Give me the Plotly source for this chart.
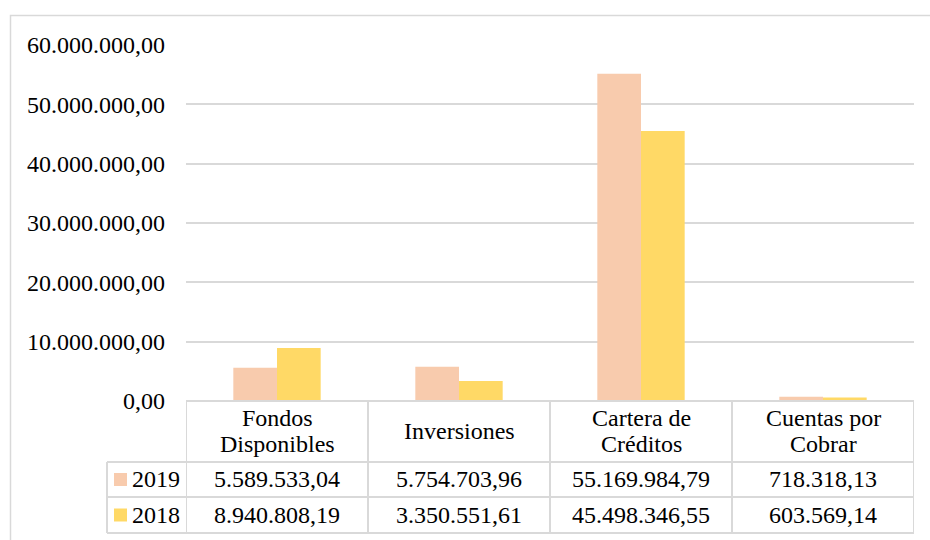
import plotly.graph_objects as go

# ---------------- data ----------------
categories = ["Fondos Disponibles", "Inversiones", "Cartera de Créditos", "Cuentas por Cobrar"]
category_lines = [["Fondos", "Disponibles"], ["Inversiones"], ["Cartera de", "Créditos"], ["Cuentas por", "Cobrar"]]
series_names = ["2019", "2018"]
values_2019 = [5589533.04, 5754703.96, 55169984.79, 718318.13]
values_2018 = [8940808.19, 3350551.61, 45498346.55, 603569.14]
y_ticks = [0, 10000000, 20000000, 30000000, 40000000, 50000000, 60000000]

# ---------------- style ----------------
colors = ["#F8CBAD", "#FFD966"]
FONT = "Liberation Serif"
FS = 24
LINE = "#D9D9D9"
W, H = 930, 540
L, R, T, B = 186, 914, 45, 401  # plot area in pixels
row_edges = [401, 462, 497, 533]
legend_left = 107
header_line_gap = 26


def px_x(p):
    return (p - L) / (R - L)


def px_y(p):
    return (B - p) / (B - T)


def fmt(v):
    s = f"{v:,.2f}"
    return s.replace(",", "X").replace(".", ",").replace("X", ".")


fig = go.Figure()
for name, vals, col in zip(series_names, [values_2019, values_2018], colors):
    fig.add_trace(go.Bar(x=categories, y=vals, name=name, marker=dict(color=col, line=dict(width=0)),
                         showlegend=False))

shapes = []
annotations = []
tfont = dict(family=FONT, size=FS, color="#000")

# outer chart border (left and top visible)
shapes.append(dict(type="rect", xref="paper", yref="paper",
                   x0=px_x(10.5), x1=px_x(945), y0=px_y(560), y1=px_y(15.5),
                   line=dict(color=LINE, width=1.5), layer="below"))

# table horizontal lines
shapes.append(dict(type="line", xref="paper", yref="paper", x0=0, x1=1,
                   y0=px_y(row_edges[0]), y1=px_y(row_edges[0]), line=dict(color=LINE, width=2)))
for r in row_edges[1:]:
    shapes.append(dict(type="line", xref="paper", yref="paper", x0=px_x(legend_left), x1=1,
                       y0=px_y(r), y1=px_y(r), line=dict(color=LINE, width=2)))
# vertical lines at category boundaries
for i in range(len(categories) + 1):
    shapes.append(dict(type="line", xref="x", yref="paper", x0=i - 0.5, x1=i - 0.5,
                       y0=px_y(row_edges[0]), y1=px_y(row_edges[-1]), line=dict(color=LINE, width=2)))
# legend column left border
shapes.append(dict(type="line", xref="paper", yref="paper", x0=px_x(legend_left), x1=px_x(legend_left),
                   y0=px_y(row_edges[1]), y1=px_y(row_edges[-1]), line=dict(color=LINE, width=2)))

# header text (one annotation per line for tight line spacing)
hc = (row_edges[0] + row_edges[1]) / 2 - 0.5
for cat, lines in zip(categories, category_lines):
    n = len(lines)
    for j, ln in enumerate(lines):
        yc = hc + (j - (n - 1) / 2) * header_line_gap
        annotations.append(dict(x=cat, xref="x", y=px_y(yc), yref="paper", text=ln, showarrow=False,
                                font=tfont, xanchor="center", yanchor="middle"))

# data rows
for k, (name, vals, col) in enumerate(zip(series_names, [values_2019, values_2018], colors)):
    yc = (row_edges[k + 1] + row_edges[k + 2]) / 2
    for cat, v in zip(categories, vals):
        annotations.append(dict(x=cat, xref="x", y=px_y(yc), yref="paper", text=fmt(v), showarrow=False,
                                font=tfont, xanchor="center", yanchor="middle"))
    # legend key
    shapes.append(dict(type="rect", xref="paper", yref="paper", x0=px_x(114), x1=px_x(127),
                       y0=px_y(yc + 6.5), y1=px_y(yc - 6.5), fillcolor=col, line=dict(width=0)))
    annotations.append(dict(x=px_x(130), xref="paper", y=px_y(yc), yref="paper", text=name,
                            showarrow=False, font=tfont, xanchor="left", yanchor="middle"))

fig.update_layout(
    width=W, height=H,
    margin=dict(l=L, r=W - R, t=T, b=H - B, pad=0),
    paper_bgcolor="white", plot_bgcolor="white",
    separators=",.",
    barmode="group", bargap=0.52, bargroupgap=0,
    font=tfont,
    shapes=shapes, annotations=annotations,
    xaxis=dict(range=[-0.5, 3.5], showticklabels=False, showgrid=False, zeroline=False,
               showline=False, ticks=""),
    yaxis=dict(range=[0, 60000000], tickvals=y_ticks, tickformat=",.2f", showgrid=True,
               gridcolor=LINE, gridwidth=1.5, zeroline=False, showline=False, ticks="",
               ticklabelstandoff=20, tickfont=tfont),
)

fig.write_html("out.html")
